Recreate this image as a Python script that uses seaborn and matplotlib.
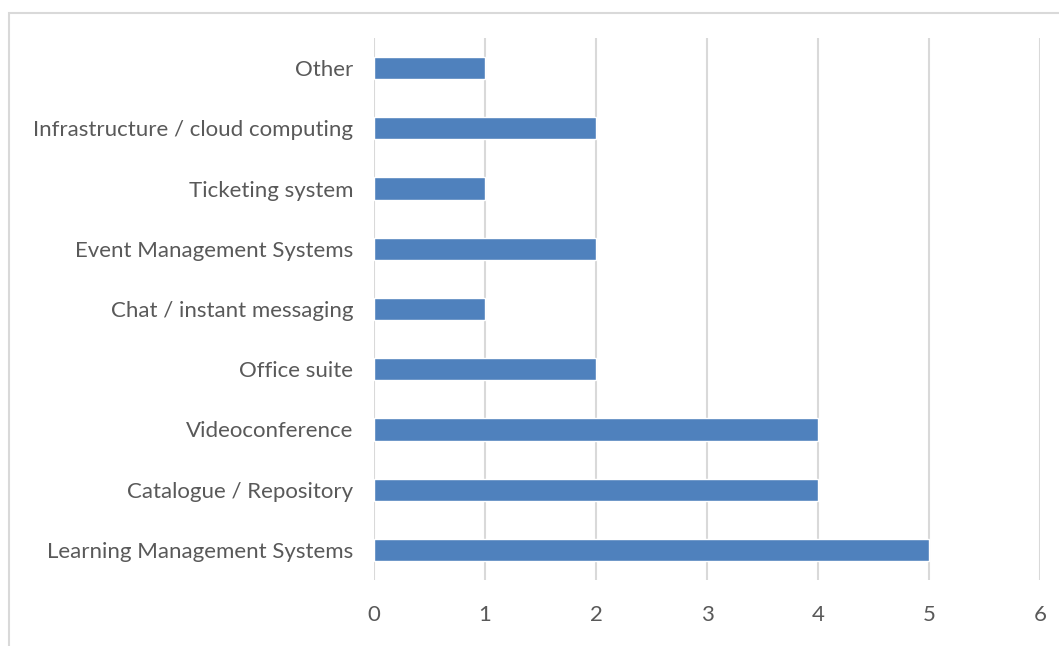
import matplotlib
matplotlib.use("Agg")
import matplotlib.pyplot as plt
import seaborn as sns
import pandas as pd
from matplotlib.patches import Rectangle

categories = [
    "Other",
    "Infrastructure / cloud computing",
    "Ticketing system",
    "Event Management Systems",
    "Chat / instant messaging",
    "Office suite",
    "Videoconference",
    "Catalogue / Repository",
    "Learning Management Systems",
]
counts = [1, 2, 1, 2, 1, 2, 4, 4, 5]
x_ticks = [0, 1, 2, 3, 4, 5, 6]

df = pd.DataFrame({"category": categories, "count": counts})

sns.set_style("white")
plt.rcParams["font.family"] = ["Lato", "DejaVu Sans"]

fig = plt.figure(figsize=(10.59, 6.46), dpi=100)
ax = fig.add_axes([374 / 1059, 1 - 580 / 646, 666 / 1059, 542 / 646])

sns.barplot(df, x="count", y="category", order=categories,
            color="#4F81BD", saturation=1, width=0.37, ax=ax)

ax.set_xlim(0, 6)
ax.set_ylim(8.5, -0.5)
ax.set_xticks(x_ticks)
ax.xaxis.grid(True, color="#D9D9D9", linewidth=1.5)
ax.set_axisbelow(True)
for s in ax.spines.values():
    s.set_visible(False)
ax.set_xlabel("")
ax.set_ylabel("")
ax.tick_params(axis="y", length=0, pad=15, labelsize=16, labelcolor="#595959")
ax.tick_params(axis="x", length=0, pad=18, labelsize=16, labelcolor="#595959")

# chart area border (Excel style), runs off the right and bottom edges
fig.patches.append(Rectangle((9 / 1059, -0.1), 1.2, 1 - 13 / 646 + 0.1,
                             transform=fig.transFigure, fill=False,
                             edgecolor="#D9D9D9", linewidth=1.5, clip_on=False))

fig.savefig("out.png", dpi=100)
